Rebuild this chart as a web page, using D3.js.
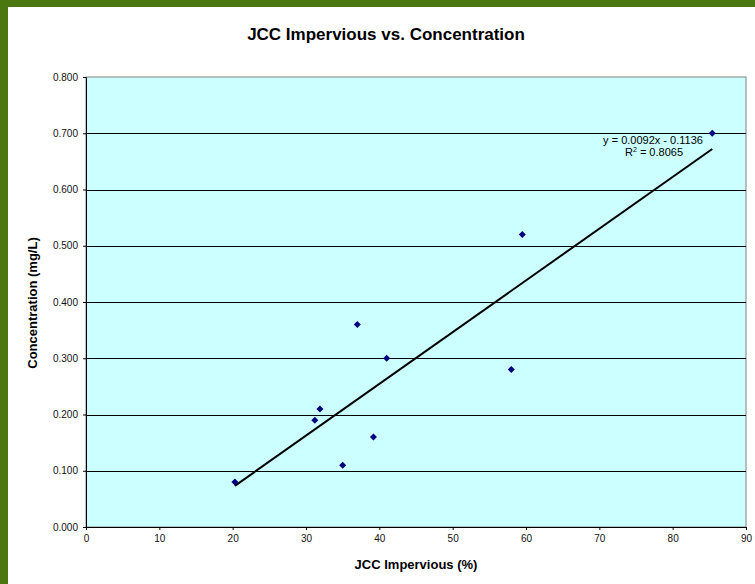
<!DOCTYPE html>
<html><head><meta charset="utf-8">
<script src="https://cdn.jsdelivr.net/npm/d3@7"></script>
<style>body{margin:0;background:#fff}svg{display:block}text{font-family:"Liberation Sans",Arial,sans-serif}</style>
</head><body>
<script>
const imperviousPct = [20.3, 31.2, 31.9, 35.0, 37.0, 39.2, 41.0, 58.0, 59.5, 85.4];
const concentration = [0.08, 0.19, 0.21, 0.11, 0.36, 0.16, 0.30, 0.28, 0.52, 0.70];
const xTicks = [0, 10, 20, 30, 40, 50, 60, 70, 80, 90];
const yTicks = [0, 0.1, 0.2, 0.3, 0.4, 0.5, 0.6, 0.7, 0.8];
const trendSlope = 0.0092, trendIntercept = -0.1136;
const eqLabel = "y = 0.0092x - 0.1136", r2Label = "0.8065";

const W = 755, H = 584;
const svg = d3.select("body").append("svg").attr("width", W).attr("height", H);
svg.append("rect").attr("width", W).attr("height", H).attr("fill", "#fff");
svg.append("rect").attr("x", 0).attr("y", 0).attr("width", W).attr("height", 7).attr("fill", "#4B7711");
svg.append("rect").attr("x", 0).attr("y", 0).attr("width", 8).attr("height", H).attr("fill", "#4B7711");

const L = 86, R = 746, T = 77, B = 527;
const x = d3.scaleLinear().domain([0, 90]).range([L, R]);
const y = d3.scaleLinear().domain([0, 0.8]).range([B, T]);

svg.append("rect").attr("x", L).attr("y", T).attr("width", R - L).attr("height", B - T)
  .attr("fill", "#CCFFFF").attr("stroke", "#808080").attr("stroke-width", 1);

svg.append("g").selectAll("line").data(yTicks.filter(v => v > 0 && v < 0.8)).join("line")
  .attr("x1", L).attr("x2", R).attr("y1", d => Math.round(y(d)) + 0.5).attr("y2", d => Math.round(y(d)) + 0.5)
  .attr("stroke", "#000").attr("stroke-width", 1);

const yAxis = svg.append("g").attr("transform", `translate(${L},0)`)
  .call(d3.axisLeft(y).tickValues(yTicks).tickFormat(d3.format(".3f")).tickSize(3).tickSizeOuter(0));
const xAxis = svg.append("g").attr("transform", `translate(0,${B})`)
  .call(d3.axisBottom(x).tickValues(xTicks).tickSize(3).tickSizeOuter(0));
[yAxis, xAxis].forEach(g => {
  g.select(".domain").attr("stroke", "#000");
  g.selectAll(".tick line").attr("stroke", "#000");
  g.selectAll(".tick text").attr("fill", "#111").style("font-size", "10px").style("font-family", "Liberation Sans, Arial, sans-serif");
});
yAxis.selectAll(".tick text").attr("x", -8);
xAxis.selectAll(".tick text").attr("y", 8);

// trendline
const xmin = d3.min(imperviousPct), xmax = d3.max(imperviousPct);
svg.append("line")
  .attr("x1", x(xmin)).attr("y1", y(trendSlope * xmin + trendIntercept))
  .attr("x2", x(xmax)).attr("y2", y(trendSlope * xmax + trendIntercept))
  .attr("stroke", "#000").attr("stroke-width", 2);

// points
const pts = imperviousPct.map((v, i) => [v, concentration[i]]);
svg.append("g").selectAll("path").data(pts).join("path")
  .attr("transform", d => `translate(${x(d[0])},${y(d[1])})`)
  .attr("d", "M0,-3.5L3.5,0L0,3.5L-3.5,0Z").attr("fill", "#000080");

// equation labels
svg.append("text").attr("x", 653).attr("y", 144).attr("text-anchor", "middle")
  .style("font-size", "11px").attr("fill", "#000").text(eqLabel);
const r2 = svg.append("text").attr("x", 654).attr("y", 156).attr("text-anchor", "middle")
  .style("font-size", "11px").attr("fill", "#000");
r2.append("tspan").text("R");
r2.append("tspan").attr("dy", -4).style("font-size", "7px").text("2");
r2.append("tspan").attr("dy", 4).text(" = " + r2Label);

svg.append("text").attr("x", 386).attr("y", 40).attr("text-anchor", "middle")
  .style("font-size", "17px").style("font-weight", "bold").text("JCC Impervious vs. Concentration");
svg.append("text").attr("x", 416).attr("y", 569).attr("text-anchor", "middle")
  .style("font-size", "13px").style("font-weight", "bold").text("JCC Impervious (%)");
svg.append("text").attr("transform", "translate(37,303) rotate(-90)").attr("text-anchor", "middle")
  .style("font-size", "13px").style("font-weight", "bold").text("Concentration (mg/L)");
</script>
</body></html>
